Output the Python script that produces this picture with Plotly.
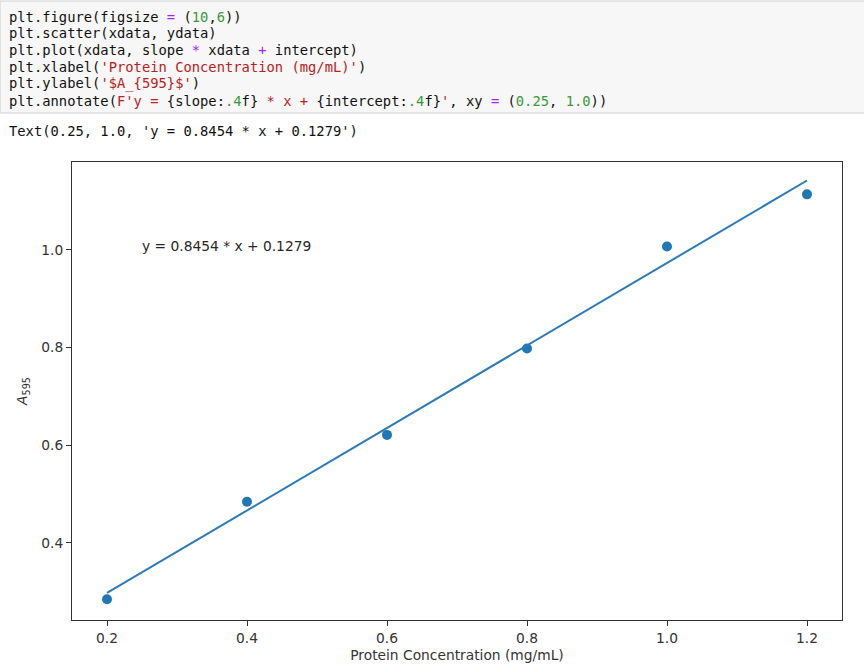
import plotly.graph_objects as go

# Data
xdata = [0.2, 0.4, 0.6, 0.8, 1.0, 1.2]
ydata = [0.284, 0.484, 0.621, 0.798, 1.007, 1.114]
slope = 0.8454
intercept = 0.1279
xticks = [0.2, 0.4, 0.6, 0.8, 1.0, 1.2]
yticks = [0.4, 0.6, 0.8, 1.0]

W, H = 864, 670
L, R, T, B = 72, 842, 162, 620

def px2x(px):
    return (px - L) / (R - L)

def px2y(py):
    return (B - py) / (B - T)

fit = [slope * x + intercept for x in xdata]

fig = go.Figure()
fig.add_trace(go.Scatter(x=xdata, y=ydata, mode="markers",
                         marker=dict(color="#1f77b4", size=10, line=dict(width=0)),
                         showlegend=False, hoverinfo="skip"))
fig.add_trace(go.Scatter(x=xdata, y=fit, mode="lines",
                         line=dict(color="#2b7bb9", width=2),
                         showlegend=False, hoverinfo="skip"))

FS = 13.8
ax_common = dict(showgrid=False, zeroline=False, showline=True, mirror=True,
                 linecolor="#333333", linewidth=1, ticks="outside", ticklen=5,
                 tickcolor="#333333", tickfont=dict(family="DejaVu Sans", size=FS, color="#333333"))

fig.update_xaxes(range=[0.15, 1.25], tickvals=xticks, ticktext=[f"{v:.1f}" for v in xticks],
                 title=dict(text="Protein Concentration (mg/mL)",
                            font=dict(family="DejaVu Sans", size=FS, color="#333333"), standoff=5),
                 **ax_common)
fig.update_yaxes(range=[0.2416, 1.1803], tickvals=yticks, ticktext=[f"{v:.1f}" for v in yticks],
                 title=dict(text="<i>A</i><sub>595</sub>",
                            font=dict(family="DejaVu Sans", size=FS, color="#333333"), standoff=10),
                 **ax_common)

# equation annotation (matplotlib annotate at xy=(0.25, 1.0), bottom-left anchored)
fig.add_annotation(x=0.25, y=1.0, xref="x", yref="y", text=f"y = {slope:.4f} * x + {intercept:.4f}",
                   showarrow=False, xanchor="left", yanchor="bottom", yshift=-6, xshift=-2,
                   font=dict(family="DejaVu Sans", size=FS, color="#262626"))

# Notebook code cell
RED = "#BA2121"
GRN = "#3a9a3a"
PUR = "#AA22FF"
BLK = "#111111"

def s(t, c):
    return f'<span style="color:{c}">{t}</span>'

code_lines = [
    "plt.figure(figsize " + s("=", PUR) + " (" + s("10", GRN) + "," + s("6", GRN) + "))",
    "plt.scatter(xdata, ydata)",
    "plt.plot(xdata, slope " + s("*", PUR) + " xdata " + s("+", PUR) + " intercept)",
    "plt.xlabel(" + s("'Protein Concentration (mg/mL)'", RED) + ")",
    "plt.ylabel(" + s("'$A_{595}$'", RED) + ")",
    "plt.annotate(" + s("F'y = ", RED) + "{slope:" + s(".4", GRN) + "f}" + s(" * x + ", RED)
    + "{intercept:" + s(".4", GRN) + "f}" + s("'", RED) + ", xy " + s("=", PUR)
    + " (" + s("0.25", GRN) + ", " + s("1.0", GRN) + "))",
]
line_y = [16.5, 33.3, 50.1, 66.9, 83.7, 100.5]

fig.add_shape(type="rect", xref="paper", yref="paper",
              x0=px2x(0), x1=px2x(W + 2), y0=px2y(113), y1=px2y(1),
              fillcolor="#f7f7f7", line=dict(color="#d0d0d0", width=1), layer="below")

for txt, py in zip(code_lines, line_y):
    fig.add_annotation(x=px2x(7), y=px2y(py), xref="paper", yref="paper", text=txt,
                       showarrow=False, xanchor="left", yanchor="middle",
                       font=dict(family="DejaVu Sans Mono", size=13.8, color=BLK))

fig.add_annotation(x=px2x(7), y=px2y(130.5), xref="paper", yref="paper",
                   text=f"Text(0.25, 1.0, 'y = {slope:.4f} * x + {intercept:.4f}')",
                   showarrow=False, xanchor="left", yanchor="middle",
                   font=dict(family="DejaVu Sans Mono", size=13.8, color=BLK))

fig.update_layout(width=W, height=H, margin=dict(l=L, r=W - R, t=T, b=H - B, autoexpand=False),
                  plot_bgcolor="white", paper_bgcolor="white")

fig.write_html("out.html", config={"displayModeBar": False},
               post_script="document.body.style.margin='0';document.body.style.overflow='hidden';")
